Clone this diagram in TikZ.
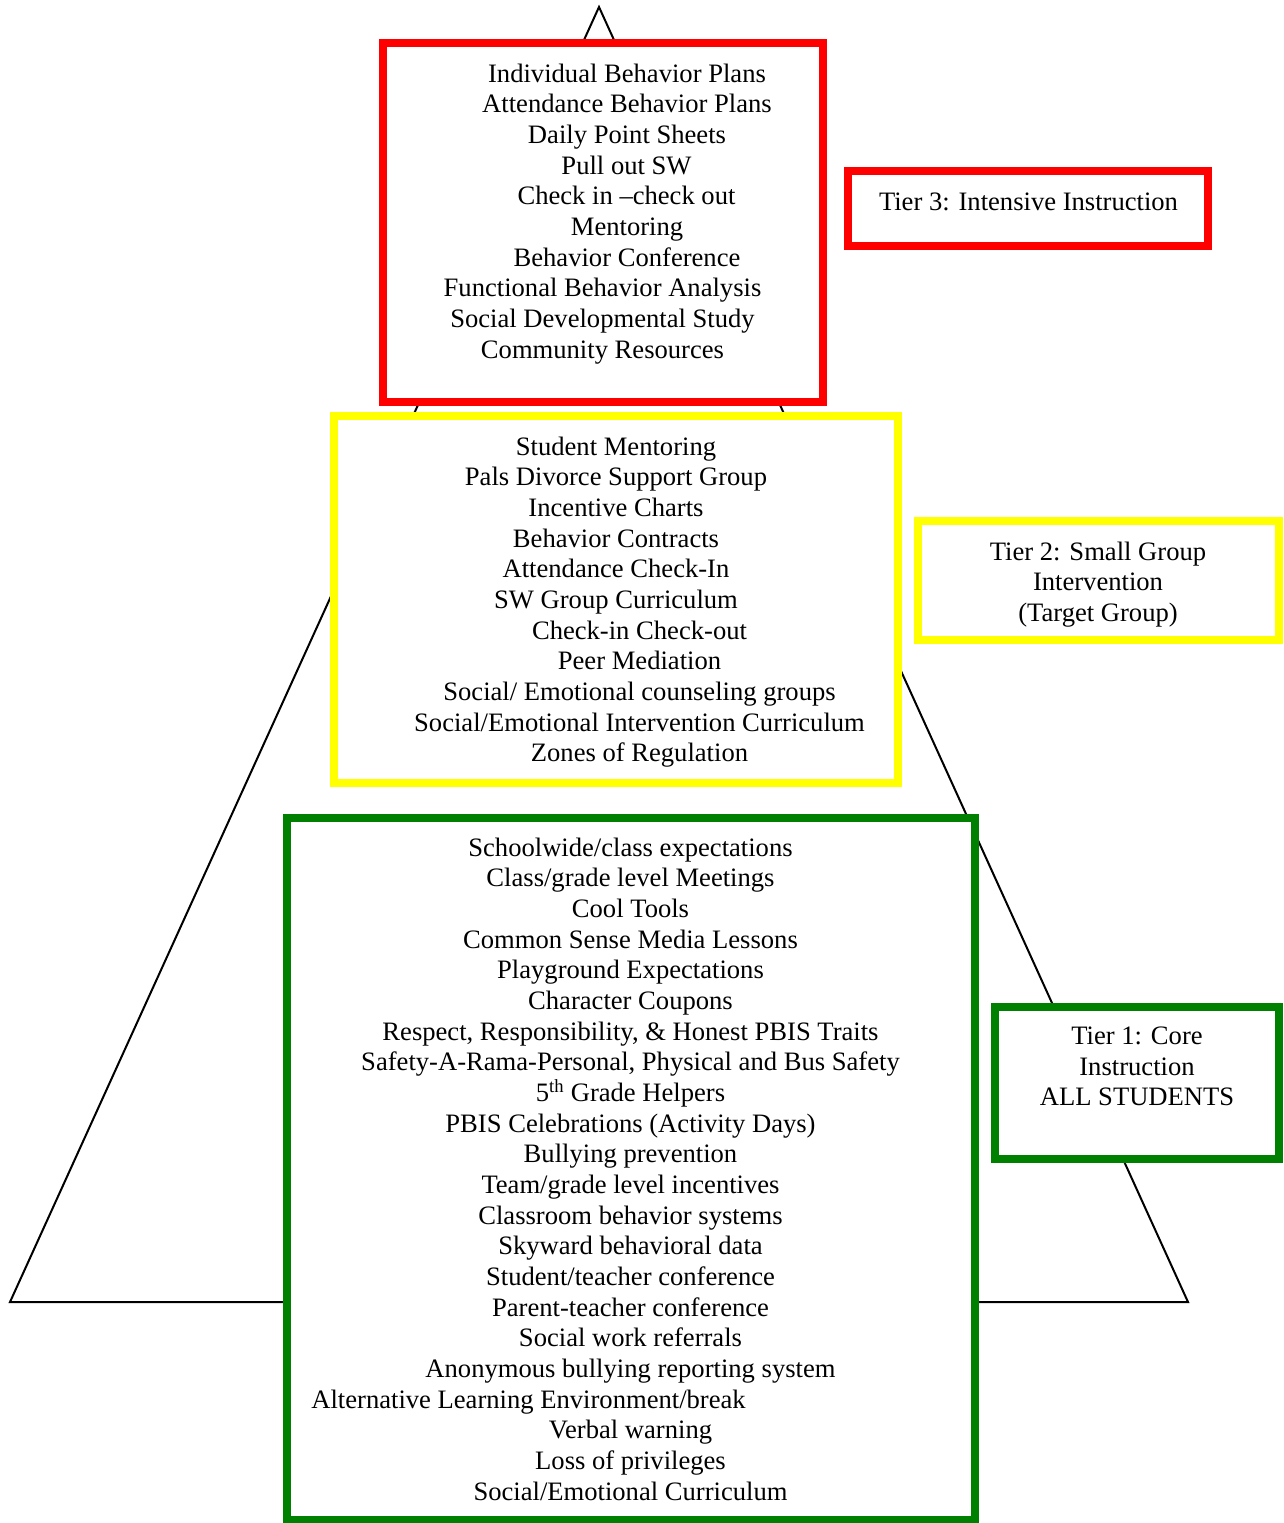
\documentclass[tikz,border=0pt]{standalone}
\usepackage{fontspec}
\setmainfont{Liberation Serif}
\definecolor{tred}{RGB}{255,0,0}
\definecolor{tyellow}{RGB}{255,255,0}
\definecolor{tgreen}{RGB}{0,128,0}
\tikzset{
  txt/.style={anchor=base, inner sep=0pt, font=\fontsize{26.6}{30.67}\selectfont},
  tierbox/.style={rectangle, draw=#1, fill=white, line width=8pt, inner sep=0pt},
  pyramid/.style={draw=black, line width=2pt, line join=miter},
}
\begin{document}
\begin{tikzpicture}[x=1pt,y=-1pt]
\useasboundingbox (0,0) rectangle (1283,1523);
% pyramid
\coordinate (apex) at (599,7);
\coordinate (bl) at (10,1302);
\coordinate (br) at (1188,1302);
\draw[pyramid] (apex) -- (bl) -- (br) -- cycle;

% boxes
\node[tierbox=tred, minimum width=439.5pt, minimum height=359pt] (redbox) at (602.75,222.5) {};
\node[tierbox=tred, minimum width=360pt, minimum height=75.5pt] (t3box) at (1028.3,208.25) {};
\node[tierbox=tyellow, minimum width=563.8pt, minimum height=367pt] (yelbox) at (615.6,599.5) {};
\node[tierbox=tyellow, minimum width=361.5pt, minimum height=119pt] (t2box) at (1098.25,580.5) {};
\node[tierbox=tgreen, minimum width=687.5pt, minimum height=702pt] (grnbox) at (630.75,1169) {};
\node[tierbox=tgreen, minimum width=284pt, minimum height=152pt] (t1box) at (1137,1082.5) {};

% red box text
\node[txt] (r1) at (627,82) {Individual Behavior Plans};
\node[txt] (r2) at (627,112.67) {Attendance Behavior Plans};
\node[txt] (r3) at (627,143.34) {Daily Point Sheets};
\node[txt] (r4) at (626.5,174.01) {Pull out SW};
\node[txt] (r5) at (626.5,204.68) {Check in –check out};
\node[txt] (r6) at (627,235.35) {Mentoring};
\node[txt] (r7) at (627,266.02) {Behavior Conference};
\node[txt] (r8) at (602.5,296.69) {Functional Behavior Analysis};
\node[txt] (r9) at (602.5,327.36) {Social Developmental Study};
\node[txt] (r10) at (602.5,358.03) {Community Resources};

% tier 3
\node[txt] (t3) at (1028.5,210) {Tier 3: Intensive Instruction};

% yellow box text
\node[txt] (y1) at (616,455) {Student Mentoring};
\node[txt] (y2) at (616,485.67) {Pals Divorce Support Group};
\node[txt] (y3) at (616,516.34) {Incentive Charts};
\node[txt] (y4) at (616,547.01) {Behavior Contracts};
\node[txt] (y5) at (616,577.68) {Attendance Check-In};
\node[txt] (y6) at (616,608.35) {SW Group Curriculum};
\node[txt] (y7) at (639.5,639.02) {Check-in Check-out};
\node[txt] (y8) at (639.5,669.69) {Peer Mediation};
\node[txt] (y9) at (639.5,700.36) {Social/ Emotional counseling groups};
\node[txt] (y10) at (639.5,731.03) {Social/Emotional Intervention Curriculum};
\node[txt] (y11) at (639.5,761.7) {Zones of Regulation};

% tier 2
\node[txt] (t2a) at (1098,560) {Tier 2: Small Group};
\node[txt] (t2b) at (1098,590.67) {Intervention};
\node[txt] (t2c) at (1098,621.34) {(Target Group)};

% green box text
\node[txt] (g1) at (630.5,856) {Schoolwide/class expectations};
\node[txt] (g2) at (630.5,886.67) {Class/grade level Meetings};
\node[txt] (g3) at (630.5,917.34) {Cool Tools};
\node[txt] (g4) at (630.5,948.01) {Common Sense Media Lessons};
\node[txt] (g5) at (630.5,978.68) {Playground Expectations};
\node[txt] (g6) at (630.5,1009.35) {Character Coupons};
\node[txt] (g7) at (630.5,1040.02) {Respect, Responsibility, \& Honest PBIS Traits};
\node[txt] (g8) at (630.5,1070.69) {Safety-A-Rama-Personal, Physical and Bus Safety};
\node[txt] (g9) at (630.5,1101.36) {5\textsuperscript{th} Grade Helpers};
\node[txt] (g10) at (630.5,1132.03) {PBIS Celebrations (Activity Days)};
\node[txt] (g11) at (630.5,1162.7) {Bullying prevention};
\node[txt] (g12) at (630.5,1193.37) {Team/grade level incentives};
\node[txt] (g13) at (630.5,1224.04) {Classroom behavior systems};
\node[txt] (g14) at (630.5,1254.71) {Skyward behavioral data};
\node[txt] (g15) at (630.5,1285.38) {Student/teacher conference};
\node[txt] (g16) at (630.5,1316.05) {Parent-teacher conference};
\node[txt] (g17) at (630.5,1346.72) {Social work referrals};
\node[txt] (g18) at (630.5,1377.39) {Anonymous bullying reporting system};
\node[txt] (g19) at (528.5,1408.06) {Alternative Learning Environment/break};
\node[txt] (g20) at (630.5,1438.73) {Verbal warning};
\node[txt] (g21) at (630.5,1469.4) {Loss of privileges};
\node[txt] (g22) at (630.5,1500.07) {Social/Emotional Curriculum};

% tier 1
\node[txt] (t1a) at (1137,1044.5) {Tier 1: Core};
\node[txt] (t1b) at (1137,1075.17) {Instruction};
\node[txt] (t1c) at (1137,1105.84) {ALL STUDENTS};
\end{tikzpicture}
\end{document}
